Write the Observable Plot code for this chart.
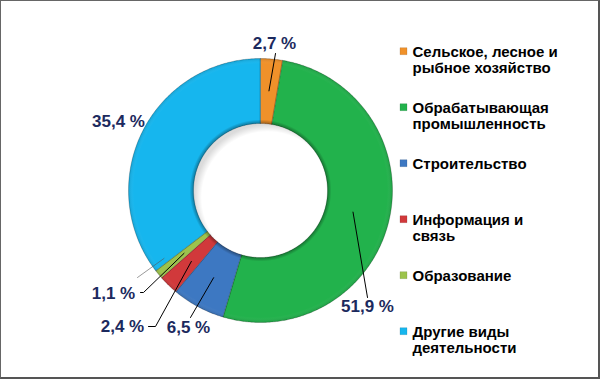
<!DOCTYPE html>
<html>
<head>
<meta charset="utf-8">
<script src="https://cdn.jsdelivr.net/npm/d3@7"></script>
<script src="https://cdn.jsdelivr.net/npm/@observablehq/plot@0.6"></script>
<style>
  html, body { margin: 0; padding: 0; background: #fff; }
  #wrap { position: relative; width: 600px; height: 379px; }
  #frame { position: absolute; left: 0; top: 0; width: 600px; height: 379px; box-sizing: border-box;
           border-left: 1px solid #666; border-top: 1px solid #666; border-right: 2px solid #555; border-bottom: 2px solid #555; pointer-events: none; }
  svg { font-family: "Liberation Sans", Arial, sans-serif; }
</style>
</head>
<body>
<div id="wrap"><div id="frame"></div></div>
<script>
// ---- data ----
const categories = [
  "Сельское, лесное и\nрыбное хозяйство",
  "Обрабатывающая\nпромышленность",
  "Строительство",
  "Информация и\nсвязь",
  "Образование",
  "Другие виды\nдеятельности"
];
const shares = [2.7, 51.9, 6.5, 2.4, 1.1, 35.4];
const valueLabels = ["2,7 %", "51,9 %", "6,5 %", "2,4 %", "1,1 %", "35,4 %"];
const colors = ["#f0912a", "#22b24c", "#3d78c2", "#d1393b", "#9cc34c", "#16b6ee"];

// ---- layout (pixels) ----
const cx = 260, cy = 190, R_OUT = 132, R_IN = 67;
const labelPos = [[14, -147], [107, 116], [-72, 137], [-138, 136], [-147, 103], [-142, -69]];
const leaderStart = [
  [[15, -137]],
  [[107, 107]],
  [[-70, 127]],
  [[-112, 136], [-105, 136]],
  [[-120, 102], [-117, 102]],
  null
];
const leaderR = [100, 95, 99, 99, 99, null];

const pie = d3.pie().sort(null).value(d => d)(shares);
const pt = (a, r) => [cx + r * Math.sin(a), cy - r * Math.cos(a)];

const ring = [];
pie.forEach((p, i) => {
  const n = Math.max(4, Math.ceil((p.endAngle - p.startAngle) / 0.01));
  for (let k = 0; k <= n; k++) {
    const [x, y] = pt(p.startAngle + (p.endAngle - p.startAngle) * k / n, R_OUT);
    ring.push({cat: categories[i], x, y});
  }
  for (let k = n; k >= 0; k--) {
    const [x, y] = pt(p.startAngle + (p.endAngle - p.startAngle) * k / n, R_IN);
    ring.push({cat: categories[i], x, y});
  }
});

const leaders = [];
pie.forEach((p, i) => {
  if (!leaderStart[i]) return;
  leaderStart[i].forEach(([dx, dy]) => leaders.push({id: i, x: cx + dx, y: cy + dy}));
  const [x, y] = pt((p.startAngle + p.endAngle) / 2, leaderR[i]);
  leaders.push({id: i, x, y});
});
const ghost = [{id: 9, x: cx - 123, y: cy + 87}, (() => { const [x, y] = pt(pie[5].startAngle + 0.04, 118); return {id: 9, x, y}; })()];

const values = pie.map((p, i) => ({text: valueLabels[i], x: cx + labelPos[i][0], y: cy + labelPos[i][1]}));

const legendBaseline = 55.7, legendStep = 56, legendFont = 15;

const chart = Plot.plot({
  width: 600, height: 379,
  margin: 0,
  x: {domain: [0, 600], range: [0, 600], axis: null},
  y: {domain: [0, 379], range: [0, 379], axis: null},
  color: {domain: categories, range: colors},
  style: {background: "transparent"},
  marks: [
    Plot.dot([0], {x: cx, y: cy, r: R_IN + 1, fill: "url(#holeShade)"}),
    Plot.line(ring, {x: "x", y: "y", z: "cat", fill: "cat", stroke: "none", curve: "linear-closed"}),
    Plot.line(ring, {x: "x", y: "y", z: "cat", fill: "url(#bevel)", stroke: "#00000040", strokeWidth: 0.8, curve: "linear-closed"}),
    Plot.line(ghost, {x: "x", y: "y", z: "id", stroke: "#555", strokeWidth: 0.6}),
    Plot.line(leaders, {x: "x", y: "y", z: "id", stroke: "#000", strokeWidth: 1}),
    Plot.text(values, {x: "x", y: "y", text: "text", fontSize: 17, fontWeight: "bold", fill: "#1c2a5e", textAnchor: "middle"}),
    Plot.dot(categories, {x: 403, y: (d, i) => legendBaseline - 5 + i * legendStep, symbol: "square", r: 4, fill: d => d, stroke: "#00000030", strokeWidth: 0.5}),
    Plot.text(categories, {x: 412, y: (d, i) => legendBaseline - 0.71 * legendFont + i * legendStep, text: d => d, textAnchor: "start", lineAnchor: "top", lineHeight: 1.07, fontSize: legendFont, fontWeight: "bold", fill: "#000"})
  ]
});
const ns = "http://www.w3.org/2000/svg";
const defs = document.createElementNS(ns, "defs");
defs.innerHTML = `
  <radialGradient id="bevel" gradientUnits="userSpaceOnUse" cx="${cx}" cy="${cy}" r="${R_OUT}">
    <stop offset="${R_IN / R_OUT}" stop-color="#000" stop-opacity="0.35"/>
    <stop offset="${R_IN / R_OUT + 0.03}" stop-color="#000" stop-opacity="0"/>
    <stop offset="0.96" stop-color="#fff" stop-opacity="0"/>
    <stop offset="1" stop-color="#000" stop-opacity="0.12"/>
  </radialGradient>
  <radialGradient id="holeShade" gradientUnits="userSpaceOnUse" cx="${cx + 7}" cy="${cy + 7}" r="${R_IN + 6}">
    <stop offset="0.9" stop-color="#000" stop-opacity="0"/>
    <stop offset="1" stop-color="#000" stop-opacity="0.14"/>
  </radialGradient>`;
chart.insertBefore(defs, chart.firstChild);
document.getElementById("wrap").prepend(chart);
</script>
</body>
</html>
